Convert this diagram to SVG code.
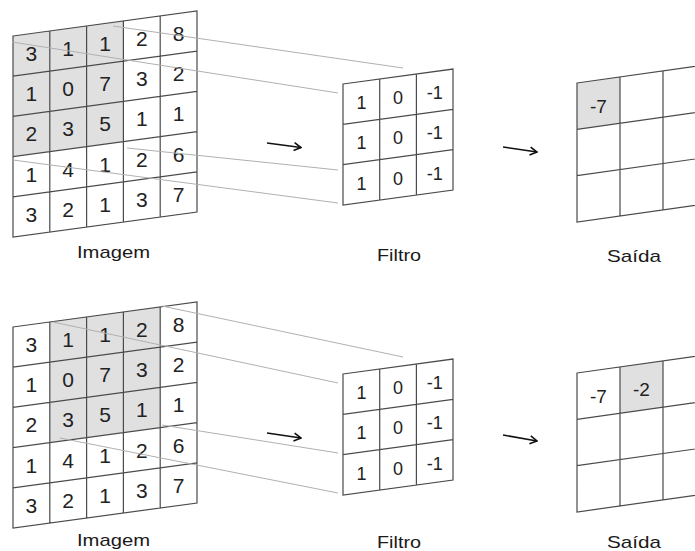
<svg xmlns="http://www.w3.org/2000/svg" width="695" height="551" viewBox="0 0 695 551">
<style>
.bg{fill:#fff}
.hl{fill:#e0e0e0}
.grid{fill:none;stroke:#4a4a4a;stroke-width:1.2}
.n{font-family:"Liberation Sans",Arial,sans-serif;font-size:21px;fill:#222;text-anchor:middle}
.f{font-family:"Liberation Sans",Arial,sans-serif;font-size:18px;fill:#222;text-anchor:middle}
.o{font-family:"Liberation Sans",Arial,sans-serif;font-size:19px;fill:#222;text-anchor:middle}
.lbl{font-family:"Liberation Sans",Arial,sans-serif;font-size:17px;fill:#1a1a1a;text-anchor:middle}
.proj{fill:none;stroke:#b0b0b0;stroke-width:1}
.arr{fill:none;stroke:#111;stroke-width:1.6;marker-end:url(#ah)}
</style>
<defs>
<marker id="ah" viewBox="0 0 10 10" refX="9" refY="5" markerWidth="10" markerHeight="10" markerUnits="userSpaceOnUse" orient="auto">
<path d="M2,1 L9,5 L2,9" fill="none" stroke="#111" stroke-width="1.6"/>
</marker>
<g id="imgGrid">
<path class="grid" d="M0,0H184V201H0Z M36.8,0V201 M73.6,0V201 M110.4,0V201 M147.2,0V201 M0,40.2H184 M0,80.4H184 M0,120.6H184 M0,160.8H184"/>
</g>
<g id="filtGrid">
<path class="grid" d="M0,0H110V121H0Z M36.7,0V121 M73.4,0V121 M0,40.3H110 M0,80.6H110"/>
</g>
<g id="outGrid">
<path class="grid" d="M0,0H129V139H0Z M43,0V139 M86,0V139 M0,46.3H129 M0,92.6H129"/>
</g>
</defs>
<rect class="bg" x="0" y="0" width="695" height="551"/>

<!-- TOP PANEL -->
<g id="image-top">
<g transform="translate(13,36) skewY(-7.74)">
<rect class="bg" x="0" y="0" width="184" height="201"/>
<rect class="hl" x="0" y="0" width="110.4" height="120.6"/>
<use href="#imgGrid"/>
</g>
<text class="n" x="31.4" y="61">3</text><text class="n" x="68.2" y="56">1</text><text class="n" x="105" y="51">1</text><text class="n" x="141.8" y="46">2</text><text class="n" x="178.6" y="41">8</text>
<text class="n" x="31.4" y="101.2">1</text><text class="n" x="68.2" y="96.2">0</text><text class="n" x="105" y="91.2">7</text><text class="n" x="141.8" y="86.2">3</text><text class="n" x="178.6" y="81.2">2</text>
<text class="n" x="31.4" y="141.4">2</text><text class="n" x="68.2" y="136.4">3</text><text class="n" x="105" y="131.4">5</text><text class="n" x="141.8" y="126.4">1</text><text class="n" x="178.6" y="121.4">1</text>
<text class="n" x="31.4" y="181.6">1</text><text class="n" x="68.2" y="176.6">4</text><text class="n" x="105" y="171.6">1</text><text class="n" x="141.8" y="166.6">2</text><text class="n" x="178.6" y="161.6">6</text>
<text class="n" x="31.4" y="221.8">3</text><text class="n" x="68.2" y="216.8">2</text><text class="n" x="105" y="211.8">1</text><text class="n" x="141.8" y="206.8">3</text><text class="n" x="178.6" y="201.8">7</text>
<text class="lbl" x="113.5" y="258" textLength="73" lengthAdjust="spacingAndGlyphs">Imagem</text>
</g>

<g id="filter-top">
<g transform="translate(343,84) skewY(-7.74)">
<rect class="bg" x="0" y="0" width="110" height="121"/>
<use href="#filtGrid"/>
</g>
<text class="f" x="361.4" y="109">1</text><text class="f" x="398.1" y="104">0</text><text class="f" x="434.8" y="99">-1</text>
<text class="f" x="361.4" y="149.3">1</text><text class="f" x="398.1" y="144.3">0</text><text class="f" x="434.8" y="139.3">-1</text>
<text class="f" x="361.4" y="189.6">1</text><text class="f" x="398.1" y="184.6">0</text><text class="f" x="434.8" y="179.6">-1</text>
<text class="lbl" x="399" y="261" textLength="44" lengthAdjust="spacingAndGlyphs">Filtro</text>
</g>

<g id="output-top">
<g transform="translate(577,83) skewY(-8)">
<rect class="bg" x="0" y="0" width="129" height="139"/>
<rect class="hl" x="0" y="0" width="43" height="46.3"/>
<use href="#outGrid"/>
</g>
<text class="o" x="598.5" y="113">-7</text>
<text class="lbl" x="634" y="262" textLength="54" lengthAdjust="spacingAndGlyphs">Saída</text>
</g>

<!-- BOTTOM PANEL -->
<g id="image-bottom">
<g transform="translate(13,327) skewY(-7.74)">
<rect class="bg" x="0" y="0" width="184" height="201"/>
<rect class="hl" x="36.8" y="0" width="110.4" height="120.6"/>
<use href="#imgGrid"/>
</g>
<g transform="translate(0,291)">
<text class="n" x="31.4" y="61">3</text><text class="n" x="68.2" y="56">1</text><text class="n" x="105" y="51">1</text><text class="n" x="141.8" y="46">2</text><text class="n" x="178.6" y="41">8</text>
<text class="n" x="31.4" y="101.2">1</text><text class="n" x="68.2" y="96.2">0</text><text class="n" x="105" y="91.2">7</text><text class="n" x="141.8" y="86.2">3</text><text class="n" x="178.6" y="81.2">2</text>
<text class="n" x="31.4" y="141.4">2</text><text class="n" x="68.2" y="136.4">3</text><text class="n" x="105" y="131.4">5</text><text class="n" x="141.8" y="126.4">1</text><text class="n" x="178.6" y="121.4">1</text>
<text class="n" x="31.4" y="181.6">1</text><text class="n" x="68.2" y="176.6">4</text><text class="n" x="105" y="171.6">1</text><text class="n" x="141.8" y="166.6">2</text><text class="n" x="178.6" y="161.6">6</text>
<text class="n" x="31.4" y="221.8">3</text><text class="n" x="68.2" y="216.8">2</text><text class="n" x="105" y="211.8">1</text><text class="n" x="141.8" y="206.8">3</text><text class="n" x="178.6" y="201.8">7</text>
</g>
<text class="lbl" x="113.5" y="546" textLength="73" lengthAdjust="spacingAndGlyphs">Imagem</text>
</g>

<g id="filter-bottom">
<g transform="translate(343,374) skewY(-7.74)">
<rect class="bg" x="0" y="0" width="110" height="121"/>
<use href="#filtGrid"/>
</g>
<g transform="translate(0,290)">
<text class="f" x="361.4" y="109">1</text><text class="f" x="398.1" y="104">0</text><text class="f" x="434.8" y="99">-1</text>
<text class="f" x="361.4" y="149.3">1</text><text class="f" x="398.1" y="144.3">0</text><text class="f" x="434.8" y="139.3">-1</text>
<text class="f" x="361.4" y="189.6">1</text><text class="f" x="398.1" y="184.6">0</text><text class="f" x="434.8" y="179.6">-1</text>
</g>
<text class="lbl" x="399" y="548" textLength="44" lengthAdjust="spacingAndGlyphs">Filtro</text>
</g>

<g id="output-bottom">
<g transform="translate(577,373) skewY(-8)">
<rect class="bg" x="0" y="0" width="129" height="139"/>
<rect class="hl" x="43" y="0" width="43" height="46.3"/>
<use href="#outGrid"/>
</g>
<text class="o" x="598.5" y="403">-7</text>
<text class="o" x="641.5" y="396">-2</text>
<text class="lbl" x="634" y="548" textLength="54" lengthAdjust="spacingAndGlyphs">Saída</text>
</g>

<g id="connectors">
<path class="proj" d="M113,26 L403,68"/>
<path class="proj" d="M12,42 L338,93"/>
<path class="proj" d="M127,148 L338,170"/>
<path class="proj" d="M13,160 L338,203"/>
<path class="proj" d="M162,306 L403,357"/>
<path class="proj" d="M53,322 L338,383"/>
<path class="proj" d="M162,425 L338,453"/>
<path class="proj" d="M60,438 L338,493"/>
<path class="arr" d="M267,143 L301,147.5"/>
<path class="arr" d="M503,147 L537,152"/>
<path class="arr" d="M267,433 L301,438"/>
<path class="arr" d="M503,435 L537,441"/>
</g>
</svg>
